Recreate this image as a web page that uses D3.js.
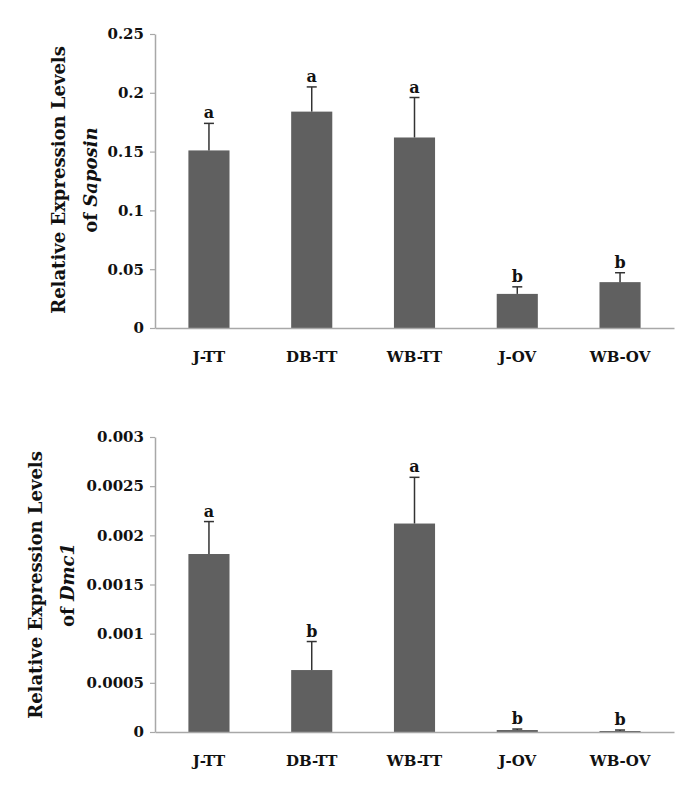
<!DOCTYPE html>
<html>
<head>
<meta charset="utf-8">
<script src="https://cdn.jsdelivr.net/npm/d3@7"></script>
<style>
  body { margin: 0; background: white; }
  text { font-family: "DejaVu Serif", serif; font-weight: bold; fill: #111; }
</style>
</head>
<body>
<div id="chart"></div>
<script>
const categories = ["J-TT", "DB-TT", "WB-TT", "J-OV", "WB-OV"]

const saposinMean = [0.151, 0.184, 0.162, 0.029, 0.039]
const saposinErr = [0.023, 0.021, 0.034, 0.006, 0.008]
const saposinLetters = ["a", "a", "a", "b", "b"]
const saposinTicks = [0, 0.05, 0.1, 0.15, 0.2, 0.25]

const dmc1Mean = [0.00181, 0.00063, 0.00212, 0.00002, 0.00001]
const dmc1Err = [0.00033, 0.00029, 0.00047, 0.00001, 0.00001]
const dmc1Letters = ["a", "b", "a", "b", "b"]
const dmc1Ticks = [0, 0.0005, 0.001, 0.0015, 0.002, 0.0025, 0.003]

const sizing = { width: 685, height: 792 }
const barColor = "#606060"
const axisColor = "#a8a8a8"

const svg = d3.select("#chart").append("svg")
    .attr("width", sizing.width)
    .attr("height", sizing.height)

svg.append("rect")
    .attr("width", "100%")
    .attr("height", "100%")
    .attr("fill", "white")

const x = d3.scaleBand()
    .domain(categories)
    .range([155, 674])
    .paddingInner(0.6)
    .paddingOuter(0.325)

function drawPanel(opts) {
    const g = svg.append("g")
    const y = d3.scaleLinear()
        .domain([0, opts.ticks[opts.ticks.length - 1]])
        .range([opts.bottom, opts.top])

    const data = categories.map((c, i) => ({
        name: c, mean: opts.mean[i], err: opts.err[i], letter: opts.letters[i]
    }))

    // y axis
    const yAxis = d3.axisLeft(y)
        .tickValues(opts.ticks)
        .tickFormat(d => String(+d.toFixed(6)))
        .tickSize(5)
        .tickSizeOuter(0)
        .tickPadding(6)
    const yG = g.append("g").attr("transform", "translate(155,0)").call(yAxis)
    yG.select(".domain").attr("stroke", axisColor).attr("stroke-width", 1.5)
    yG.selectAll(".tick line").attr("stroke", axisColor).attr("stroke-width", 1.2)
    yG.selectAll("text").attr("font-size", 15).attr("fill", "#111")
        .attr("font-family", "DejaVu Serif").attr("font-weight", "bold")

    // bars
    g.selectAll("rect.bar").data(data).join("rect")
        .attr("class", "bar")
        .attr("x", d => x(d.name))
        .attr("width", x.bandwidth())
        .attr("y", d => y(d.mean))
        .attr("height", d => Math.max(1, y(0) - y(d.mean)))
        .attr("fill", barColor)

    // error bars (upper only)
    const cx = d => x(d.name) + x.bandwidth() / 2
    g.selectAll("line.err").data(data).join("line")
        .attr("class", "err")
        .attr("x1", cx).attr("x2", cx)
        .attr("y1", d => y(d.mean))
        .attr("y2", d => y(d.mean + d.err))
        .attr("stroke", "#333").attr("stroke-width", 1.5)
    g.selectAll("line.cap").data(data).join("line")
        .attr("class", "cap")
        .attr("x1", d => cx(d) - 5).attr("x2", d => cx(d) + 5)
        .attr("y1", d => y(d.mean + d.err))
        .attr("y2", d => y(d.mean + d.err))
        .attr("stroke", "#333").attr("stroke-width", 1.5)

    // significance letters
    g.selectAll("text.sig").data(data).join("text")
        .attr("class", "sig")
        .attr("x", cx)
        .attr("y", d => y(d.mean + d.err) - 5)
        .attr("text-anchor", "middle")
        .attr("font-size", 16)
        .text(d => d.letter)

    // x axis
    const xAxis = d3.axisBottom(x).tickSize(0).tickPadding(23)
    const xG = g.append("g").attr("transform", `translate(0,${opts.bottom})`).call(xAxis)
    xG.select(".domain").attr("stroke", axisColor).attr("stroke-width", 1.5)
    xG.selectAll("text").attr("font-size", 15).attr("fill", "#111")
        .attr("font-family", "DejaVu Serif").attr("font-weight", "bold")

    // y title
    g.append("text")
        .attr("transform", `translate(${opts.titleX},${opts.titleY}) rotate(-90)`)
        .attr("text-anchor", "middle")
        .attr("font-size", 18)
        .text("Relative Expression Levels")
    const t2 = g.append("text")
        .attr("transform", `translate(${opts.titleX + 32},${opts.titleY}) rotate(-90)`)
        .attr("text-anchor", "middle")
        .attr("font-size", 18)
    t2.append("tspan").text("of ")
    t2.append("tspan").attr("font-style", "italic").text(opts.gene)
}

drawPanel({
    mean: saposinMean, err: saposinErr, letters: saposinLetters, ticks: saposinTicks,
    top: 34, bottom: 328, titleX: 65, titleY: 180, gene: "Saposin"
})

drawPanel({
    mean: dmc1Mean, err: dmc1Err, letters: dmc1Letters, ticks: dmc1Ticks,
    top: 437, bottom: 732, titleX: 42, titleY: 585, gene: "Dmc1"
})
</script>
</body>
</html>
